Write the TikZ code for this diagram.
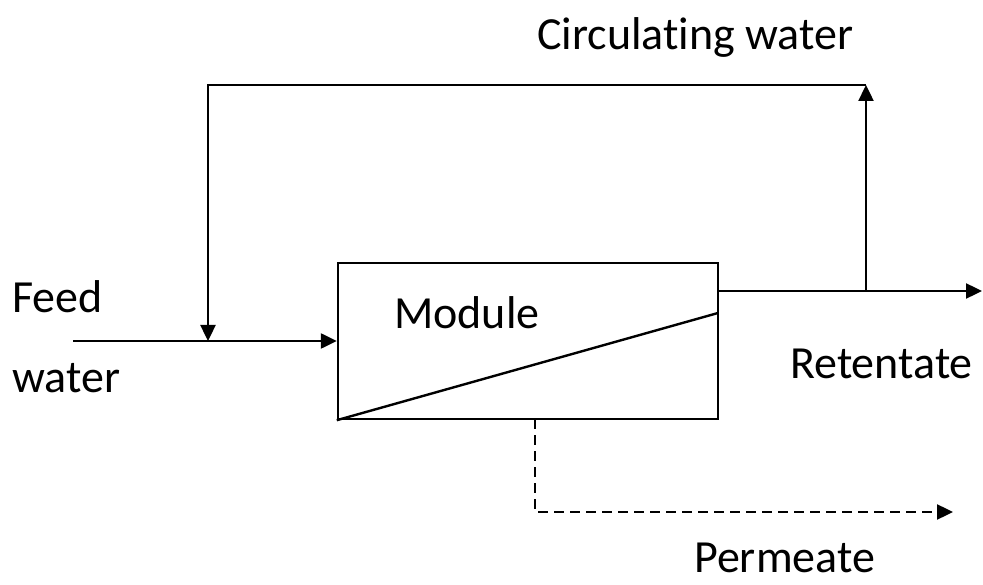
\documentclass[tikz,border=0pt]{standalone}
\usepackage{fontspec}
\setmainfont[Ligatures={NoCommon}]{Carlito}
\usetikzlibrary{arrows.meta}
\begin{document}
\begin{tikzpicture}[x=1pt,y=-1pt,
  flow/.style={line width=2.4pt},
  arr/.style={flow,-{Triangle[length=16pt,width=15pt]}},
  lbl/.style={inner sep=0pt,anchor=base west,font=\fontsize{46}{54}\selectfont},
  modbox/.style={draw,line width=2.4pt,minimum width=380pt,minimum height=156pt,inner sep=0pt}]
\useasboundingbox (0,0) rectangle (983,585);
\node[modbox] (module) at (528,341) {};
\coordinate (feedstart) at (73,341);
\coordinate (merge) at (208,341);
\coordinate (topleft) at (208,85);
\coordinate (topright) at (866,85);
\coordinate (retstart) at (718,291);
\coordinate (branch) at (866,291);
\coordinate (retend) at (982,291);
\coordinate (diagend) at (718,313);
\coordinate (permstart) at (535,419);
\coordinate (permcorner) at (535,512);
\coordinate (permend) at (953,512);
% module diagonal
\draw[flow] (module.south west) -- (diagend);
% feed
\draw[arr] (feedstart) -- (module.west);
% retentate
\draw[arr] (retstart) -- (retend);
% circulating loop
\draw[arr] (branch) -- (topright);
\draw[arr] (topright) -- (topleft) -- (merge);
% permeate
\draw[arr,dash pattern=on 10pt off 6pt] (permstart) -- (permcorner) -- (permend);
% labels
\node[lbl] (tcirc) at (537,50) {Circulating water};
\node[lbl] (tfeed) at (12,313) {Feed};
\node[lbl] (twater) at (12,392) {water};
\node[lbl] (tmod) at (394,329) {Module};
\node[lbl] (tret) at (790,378) {Retentate};
\node[lbl] (tperm) at (694,572) {Permeate};
\end{tikzpicture}
\end{document}
